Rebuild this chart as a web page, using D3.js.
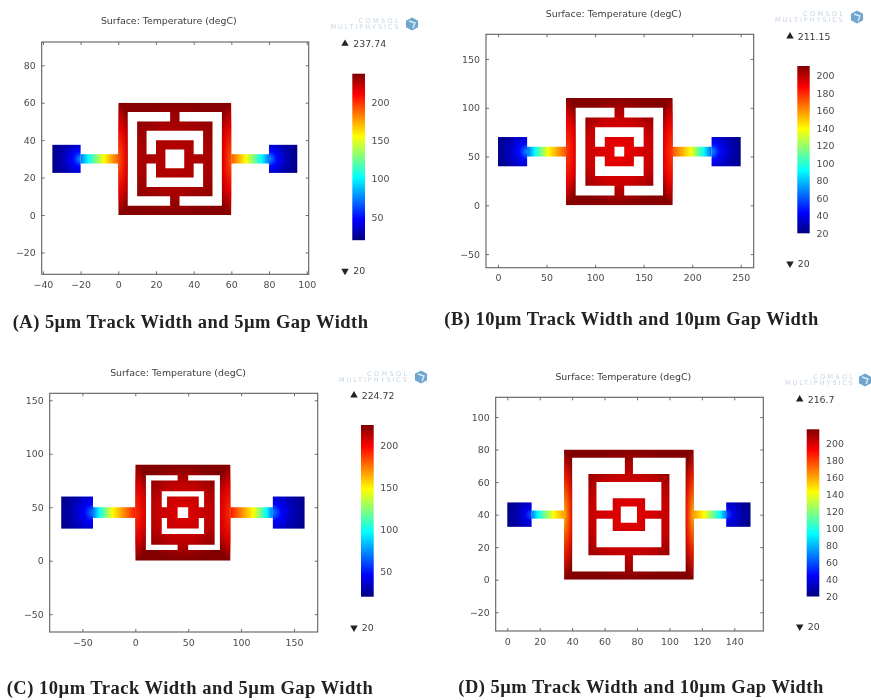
<!DOCTYPE html>
<html><head><meta charset="utf-8">
<script src="https://cdn.jsdelivr.net/npm/d3@7"></script>
<style>
html,body{margin:0;padding:0;background:#fff}
svg{display:block;filter:blur(0.6px)}
text{font-family:"DejaVu Sans",sans-serif}
</style></head><body>
<svg id="chart" width="871" height="700"></svg>
<script>
// ---------- shared text ----------
const titleText = "Surface: Temperature (degC)";
const logoLines = ["COMSOL", "MULTIPHYSICS"];
// jet colour map
const jetOffsets = [0, 0.125, 0.375, 0.625, 0.875, 1];
const jetColors = ["#00007f", "#0000ff", "#00ffff", "#ffff00", "#ff0000", "#7f0000"];
// where the temperature readings sit along each gradient
const padOffsets = [0, 0.25, 0.6, 1];
const coilOffsets = [0, 0.6, 1];
const glowOffsets = [0, 0.6, 1];

// ---------- panel A ----------
const captionA = "(A) 5µm Track Width and 5µm Gap Width";
const xTicksA = [-40, -20, 0, 20, 40, 60, 80, 100];
const yTicksA = [-20, 0, 20, 40, 60, 80];
const barTicksA = [50, 100, 150, 200];
const rangeA = [20, 237.74];
const ringsA = [[0, 60, 0, 60, 5], [10, 50, 10, 50, 5], [20, 40, 20, 40, 5]];
const linksA = [[27.5, 32.5, 50, 55], [27.5, 32.5, 5, 10], [15, 20, 27.5, 32.5], [40, 45, 27.5, 32.5]];
const tracksA = [[-20, 0, 27.5, 32.5], [80, 60, 27.5, 32.5]];
const padsA = [[-35, -20, 22.5, 37.5], [95, 80, 22.5, 37.5]];
const padTempsA = [80, 48, 30, 21];
const trackTempsA = [72, 101, 156, 192];
const trackOffsetsA = [0, 0.2, 0.62, 1];
const coilTempsA = [226, 229, 236];
const glowTempsA = [192, 212];

// ---------- panel B ----------
const captionB = "(B) 10µm Track Width and 10µm Gap Width";
const xTicksB = [0, 50, 100, 150, 200, 250];
const yTicksB = [-50, 0, 50, 100, 150];
const barTicksB = [20, 40, 60, 80, 100, 120, 140, 160, 180, 200];
const rangeB = [20, 211.15];
const ringsB = [[70, 180, 0, 110, 10], [90, 160, 20, 90, 10], [110, 140, 40, 70, 10]];
const linksB = [[120, 130, 90, 100], [120, 130, 10, 20], [100, 110, 50, 60], [140, 150, 50, 60]];
const tracksB = [[30, 70, 50, 60], [220, 180, 50, 60]];
const padsB = [[0, 30, 40, 70], [250, 220, 40, 70]];
const padTempsB = [72, 45, 30, 21];
const trackTempsB = [62, 92, 139, 172];
const trackOffsetsB = [0, 0.2, 0.54, 1];
const coilTempsB = [190, 197, 210];
const glowTempsB = [175, 187];

// ---------- panel C ----------
const captionC = "(C) 10µm Track Width and 5µm Gap Width";
const xTicksC = [-50, 0, 50, 100, 150];
const yTicksC = [-50, 0, 50, 100, 150];
const barTicksC = [50, 100, 150, 200];
const rangeC = [20, 224.72];
const ringsC = [[0, 90, 0, 90, 10], [15, 75, 15, 75, 10], [30, 60, 30, 60, 10]];
const linksC = [[40, 50, 75, 80], [40, 50, 10, 15], [25, 30, 40, 50], [60, 65, 40, 50]];
const tracksC = [[-40, 0, 40, 50], [130, 90, 40, 50]];
const padsC = [[-70, -40, 30, 60], [160, 130, 30, 60]];
const padTempsC = [72, 45, 30, 21];
const trackTempsC = [68, 97, 148, 195];
const trackOffsetsC = [0, 0.15, 0.46, 1];
const coilTempsC = [205, 212, 224];
const glowTempsC = [190, 203];

// ---------- panel D ----------
const captionD = "(D) 5µm Track Width and 10µm Gap Width";
const xTicksD = [0, 20, 40, 60, 80, 100, 120, 140];
const yTicksD = [-20, 0, 20, 40, 60, 80, 100];
const barTicksD = [20, 40, 60, 80, 100, 120, 140, 160, 180, 200];
const rangeD = [20, 216.7];
const ringsD = [[35, 115, 0, 80, 5], [50, 100, 15, 65, 5], [65, 85, 30, 50, 5]];
const linksD = [[72.5, 77.5, 65, 75], [72.5, 77.5, 5, 15], [55, 65, 37.5, 42.5], [85, 95, 37.5, 42.5]];
const tracksD = [[15, 35, 37.5, 42.5], [135, 115, 37.5, 42.5]];
const padsD = [[0, 15, 32.5, 47.5], [150, 135, 32.5, 47.5]];
const padTempsD = [60, 40, 28, 21];
const trackTempsD = [68, 95, 143, 162];
const trackOffsetsD = [0, 0.2, 0.68, 1];
const coilTempsD = [197, 203, 216];
const glowTempsD = [155, 186];

// ---------- page layout (pixels) ----------
const panels = [
 {id:"A",caption:captionA,xTicks:xTicksA,yTicks:yTicksA,barTicks:barTicksA,range:rangeA,rings:ringsA,links:linksA,tracks:tracksA,pads:padsA,padT:padTempsA,trackT:trackTempsA,trackO:trackOffsetsA,coilT:coilTempsA,glowT:glowTempsA,
  x0:[0,118.3],x1:[100,306.7],y0:[0,215],y1:[80,65.3],frame:[41.7,308.7,42,274.3],bar:[352.3,365,73.7,240.2],mark:[345,353.3,43.7,271],title:[168.8,20.7],logo:[398.5,412,24],cap:[12.7,368,321.7]},
 {id:"B",caption:captionB,xTicks:xTicksB,yTicks:yTicksB,barTicks:barTicksB,range:rangeB,rings:ringsB,links:linksB,tracks:tracksB,pads:padsB,padT:padTempsB,trackT:trackTempsB,trackO:trackOffsetsB,coilT:coilTempsB,glowT:glowTempsB,
  x0:[0,498],x1:[250,740.7],y0:[0,205.3],y1:[150,59],frame:[486,753.7,34.3,267.7],bar:[797.3,809.7,66,233.3],mark:[790,797.7,36.3,263.7],title:[613.7,13.7],logo:[843,857,17],cap:[444.3,818.3,319.3]},
 {id:"C",caption:captionC,xTicks:xTicksC,yTicks:yTicksC,barTicks:barTicksC,range:rangeC,rings:ringsC,links:linksC,tracks:tracksC,pads:padsC,padT:padTempsC,trackT:trackTempsC,trackO:trackOffsetsC,coilT:coilTempsC,glowT:glowTempsC,
  x0:[0,135.3],x1:[150,294],y0:[0,560.7],y1:[150,400.3],frame:[49.7,317.7,393.3,632],bar:[361,373.7,425,596.7],mark:[354,361.7,395.3,627.7],title:[178,372.7],logo:[407,421,377],cap:[6.7,372.7,688.3]},
 {id:"D",caption:captionD,xTicks:xTicksD,yTicks:yTicksD,barTicks:barTicksD,range:rangeD,rings:ringsD,links:linksD,tracks:tracksD,pads:padsD,padT:padTempsD,trackT:trackTempsD,trackO:trackOffsetsD,coilT:coilTempsD,glowT:glowTempsD,
  x0:[0,507.3],x1:[140,734.3],y0:[0,579.7],y1:[100,417],frame:[495.7,763.3,397.3,631],bar:[806.7,819.3,429.3,596.5],mark:[799.7,807.7,399.3,626.7],title:[623.3,376.7],logo:[853,865,380],cap:[458.3,823.3,686.7]}
];

const svg = d3.select("#chart");
const defs = svg.append("defs");
const fmt = v => String(v).replace("-", "\u2212");
const inkAxis = "#5f5f5f", inkText = "#4a4a4a";

function addStops(grad, offsets, colors, opacities){
  grad.selectAll("stop").data(offsets).join("stop")
    .attr("offset", d => d)
    .attr("stop-color", (d,i) => colors[i])
    .attr("stop-opacity", (d,i) => opacities ? opacities[i] : 1);
}

panels.forEach(p => {
  const [fl, fr, ft, fb] = p.frame;
  const xAnchor = d3.scaleLinear().domain([p.x0[0], p.x1[0]]).range([p.x0[1], p.x1[1]]);
  const yAnchor = d3.scaleLinear().domain([p.y0[0], p.y1[0]]).range([p.y0[1], p.y1[1]]);
  const x = d3.scaleLinear().domain([xAnchor.invert(fl), xAnchor.invert(fr)]).range([fl, fr]);
  const y = d3.scaleLinear().domain([yAnchor.invert(fb), yAnchor.invert(ft)]).range([fb, ft]);
  const jet = d3.scaleLinear().domain(jetOffsets.map(o => p.range[0] + o * (p.range[1] - p.range[0]))).range(jetColors).clamp(true);
  const g = svg.append("g");

  // title
  g.append("text").attr("x", p.title[0]).attr("y", p.title[1]).attr("dy", "0.35em")
    .attr("text-anchor", "middle").attr("font-size", 9.4).attr("fill", "#3c3c3c").text(titleText);

  // logo
  const logo = g.append("g");
  logoLines.forEach((t, i) => logo.append("text").attr("x", p.logo[0]).attr("y", p.logo[2] - 1.5 + i * 6.5)
    .attr("text-anchor", "end").attr("font-size", 6.5).attr("fill", "#c6d4e2")
    .attr("textLength", i ? 68 : 40).attr("lengthAdjust", "spacing").text(t));
  const hex = d3.range(6).map(i => [7 * Math.cos(i * Math.PI / 3 + Math.PI / 6), 6.5 * Math.sin(i * Math.PI / 3 + Math.PI / 6)]);
  logo.append("path").attr("transform", `translate(${p.logo[1]},${p.logo[2]})`)
    .attr("d", d3.line()(hex) + "Z").attr("fill", "#6fa6cf");
  logo.append("path").attr("transform", `translate(${p.logo[1]},${p.logo[2]})`)
    .attr("d", "M-3,-3L3,-1L1,4").attr("fill", "none").attr("stroke", "#dcecf6").attr("stroke-width", 1.4);

  // pads
  p.pads.forEach((r, i) => {
    const id = `pad${p.id}${i}`;
    const grad = defs.append("radialGradient").attr("id", id).attr("gradientUnits", "userSpaceOnUse")
      .attr("cx", x(r[1])).attr("cy", y((r[2] + r[3]) / 2)).attr("r", Math.abs(x(r[1]) - x(r[0])) * 1.1);
    addStops(grad, padOffsets, p.padT.map(jet));
    g.append("rect").attr("x", Math.min(x(r[0]), x(r[1]))).attr("y", y(r[3]))
      .attr("width", Math.abs(x(r[1]) - x(r[0]))).attr("height", y(r[2]) - y(r[3])).attr("fill", `url(#${id})`);
  });

  // tracks
  p.tracks.forEach((r, i) => {
    const id = `track${p.id}${i}`;
    const grad = defs.append("linearGradient").attr("id", id).attr("gradientUnits", "userSpaceOnUse")
      .attr("x1", x(r[0])).attr("x2", x(r[1])).attr("y1", 0).attr("y2", 0);
    addStops(grad, p.trackO, p.trackT.map(jet));
    g.append("rect").attr("x", Math.min(x(r[0]), x(r[1]))).attr("y", y(r[3]))
      .attr("width", Math.abs(x(r[1]) - x(r[0]))).attr("height", y(r[2]) - y(r[3])).attr("fill", `url(#${id})`);
  });

  // coil: rings and links clip a smooth temperature field
  const ringPath = d3.path();
  p.rings.forEach(r => {
    ringPath.rect(x(r[0]), y(r[3]), x(r[1]) - x(r[0]), y(r[2]) - y(r[3]));
    ringPath.rect(x(r[0] + r[4]), y(r[3] - r[4]), x(r[1] - r[4]) - x(r[0] + r[4]), y(r[2] + r[4]) - y(r[3] - r[4]));
  });
  const linkPath = d3.path();
  p.links.forEach(r => linkPath.rect(x(r[0]), y(r[3]), x(r[1]) - x(r[0]), y(r[2]) - y(r[3])));
  const clip = defs.append("clipPath").attr("id", `coil${p.id}`);
  clip.append("path").attr("d", ringPath.toString()).attr("clip-rule", "evenodd");
  clip.append("path").attr("d", linkPath.toString());

  const o = p.rings[0], thick = o[4];
  const cx = (o[0] + o[1]) / 2, cy = (o[2] + o[3]) / 2;
  const coilGrad = defs.append("radialGradient").attr("id", `field${p.id}`).attr("gradientUnits", "userSpaceOnUse")
    .attr("cx", x(cx)).attr("cy", y(cy)).attr("r", x(o[1]) - x(cx));
  addStops(coilGrad, coilOffsets, p.coilT.map(jet));
  const coil = g.append("g").attr("clip-path", `url(#coil${p.id})`);
  coil.append("rect").attr("x", x(o[0])).attr("y", y(o[3])).attr("width", x(o[1]) - x(o[0])).attr("height", y(o[2]) - y(o[3]))
    .attr("fill", `url(#field${p.id})`);
  [o[0], o[1]].forEach((edge, i) => {
    const id = `glow${p.id}${i}`;
    const grad = defs.append("radialGradient").attr("id", id);
    addStops(grad, glowOffsets, [jet(p.glowT[0]), jet(p.glowT[1]), jet(p.glowT[1])], [1, 0.8, 0]);
    coil.append("ellipse").attr("cx", x(edge)).attr("cy", y(cy))
      .attr("rx", Math.abs(x(thick * 1.5) - x(0))).attr("ry", Math.abs(y(0) - y((o[3] - o[2]) * 0.5)))
      .attr("fill", `url(#${id})`);
  });

  // axes
  const axisStyle = a => {
    a.select(".domain").remove();
    a.selectAll("line").attr("stroke", inkAxis).attr("stroke-width", 0.9);
    a.selectAll("text").attr("fill", inkText).attr("font-size", 9.4).attr("font-family", '"DejaVu Sans",sans-serif');
  };
  g.append("g").attr("transform", `translate(0,${fb})`)
    .call(d3.axisBottom(x).tickValues(p.xTicks).tickSize(-3).tickPadding(7).tickFormat(fmt)).call(axisStyle);
  g.append("g").attr("transform", `translate(0,${ft})`)
    .call(d3.axisTop(x).tickValues(p.xTicks).tickSize(-3).tickFormat("")).call(axisStyle);
  g.append("g").attr("transform", `translate(${fl},0)`)
    .call(d3.axisLeft(y).tickValues(p.yTicks).tickSize(-3).tickPadding(6).tickFormat(fmt)).call(axisStyle);
  g.append("g").attr("transform", `translate(${fr},0)`)
    .call(d3.axisRight(y).tickValues(p.yTicks).tickSize(-3).tickFormat("")).call(axisStyle);
  g.append("rect").attr("x", fl).attr("y", ft).attr("width", fr - fl).attr("height", fb - ft)
    .attr("fill", "none").attr("stroke", inkAxis).attr("stroke-width", 1.1);

  // colour bar
  const [bl, br, bt, bb] = p.bar;
  const by = d3.scaleLinear().domain(p.range).range([bb, bt]);
  const barGrad = defs.append("linearGradient").attr("id", `bar${p.id}`).attr("x1", 0).attr("x2", 0).attr("y1", 1).attr("y2", 0);
  addStops(barGrad, jetOffsets, jetColors);
  g.append("rect").attr("x", bl).attr("y", by(p.range[1])).attr("width", br - bl).attr("height", by(p.range[0]) - by(p.range[1]))
    .attr("fill", `url(#bar${p.id})`);
  g.selectAll(null).data(p.barTicks).join("text")
    .attr("x", bl + 19.3).attr("y", d => by(d)).attr("dy", "0.35em")
    .attr("font-size", 9.4).attr("fill", inkText).text(d => d);

  // max / min markers
  const tri = d3.symbol().type(d3.symbolTriangle).size(24);
  g.append("path").attr("d", tri()).attr("transform", `translate(${p.mark[0]},${p.mark[2]})`).attr("fill", "#222");
  g.append("path").attr("d", tri()).attr("transform", `translate(${p.mark[0]},${p.mark[3]}) rotate(180)`).attr("fill", "#222");
  g.append("text").attr("x", p.mark[1]).attr("y", p.mark[2]).attr("dy", "0.35em").attr("font-size", 9.4).attr("fill", "#3c3c3c").text(p.range[1]);
  g.append("text").attr("x", p.mark[1]).attr("y", p.mark[3]).attr("dy", "0.35em").attr("font-size", 9.4).attr("fill", "#3c3c3c").text(p.range[0]);

  // caption
  g.append("text").attr("x", p.cap[0]).attr("y", p.cap[2]).attr("dy", "0.32em")
    .attr("textLength", p.cap[1] - p.cap[0]).attr("lengthAdjust", "spacing")
    .style("font-family", '"Liberation Serif",serif').attr("font-weight", "bold").attr("font-size", 18.5)
    .attr("fill", "#222").text(p.caption);
});
</script>
</body></html>
